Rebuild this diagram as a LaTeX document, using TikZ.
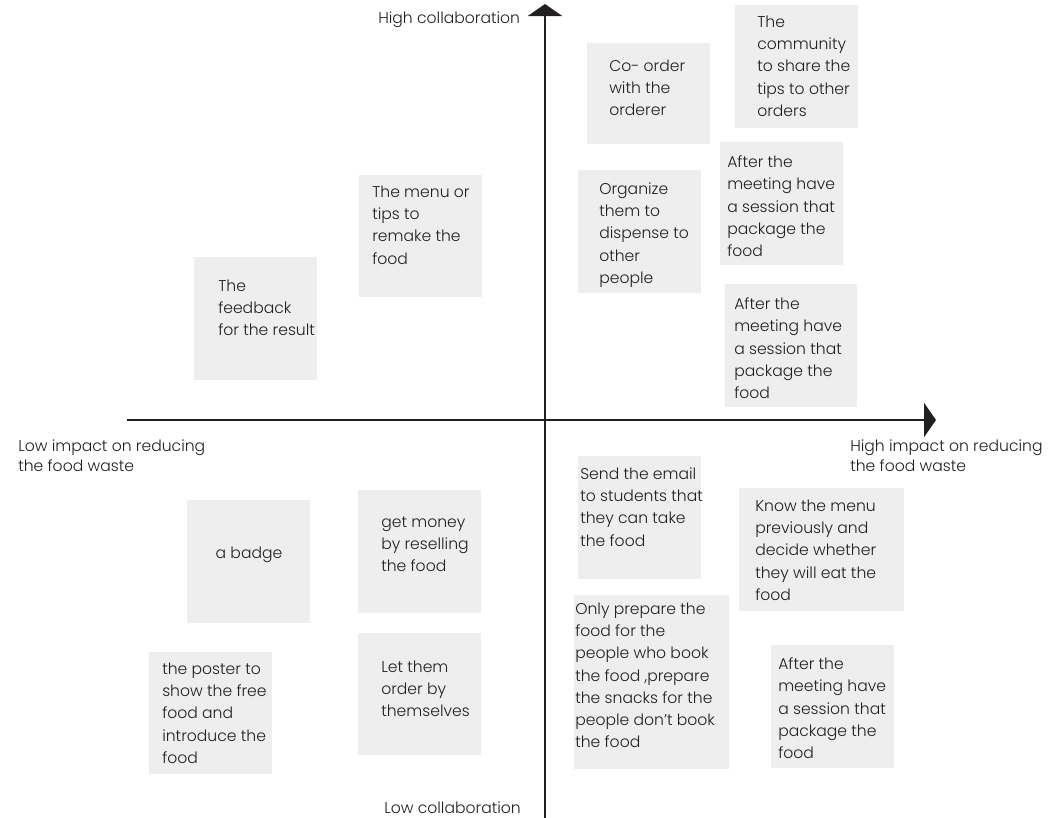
\documentclass[tikz,border=0pt]{standalone}
\usepackage{fontspec}
\setmainfont{Poppins}[UprightFont={* Light}]
\usetikzlibrary{arrows.meta}

\definecolor{ink}{HTML}{231F20}
\definecolor{cardgray}{HTML}{EEEEEE}

\tikzset{
  card/.style={fill=cardgray, draw=none, inner sep=0pt, outer sep=0pt},
  % text blocks are placed by the top of their first strut
  note/.style={anchor=north west, align=left, inner sep=0pt, text=ink,
               font=\fontsize{11.7}{16.7}\selectfont,
               execute at begin node=\strut},
  axislabel/.style={anchor=north west, align=left, inner sep=0pt, text=ink,
               font=\fontsize{11.7}{15}\selectfont,
               execute at begin node=\strut},
  axis/.style={draw=ink, line width=1.9pt,
               -{Triangle[length=9pt, width=25.5pt]}},
}

% a grey card from its top-left corner (x,y) with width w and height h (px)
\newcommand{\cardat}[5]{%
  \node[card, anchor=north west, minimum width=#4*0.75pt, minimum height=#5*0.75pt]
    (#1) at (#2,#3) {};}

\begin{document}
\begin{tikzpicture}[x=0.75pt,y=-0.75pt]
  \useasboundingbox (0,0) rectangle (1061,818);

  % cards
  \cardat{c1}{587}{43}{123}{101}
  \cardat{c2}{735}{5}{123}{123}
  \cardat{c3}{359}{175}{123}{122}
  \cardat{c4}{194}{257}{123}{123}
  \cardat{c5}{578}{170}{123}{123}
  \cardat{c6}{720}{142}{123}{123}
  \cardat{c7}{725}{284}{132}{123}
  \cardat{c8}{578}{456}{123}{123}
  \cardat{c9}{739}{488}{165}{123}
  \cardat{c10}{574}{595}{155}{174}
  \cardat{c11}{771}{645}{123}{123}
  \cardat{c12}{187}{500}{123}{123}
  \cardat{c13}{358}{490}{123}{123}
  \cardat{c14}{149}{652}{123}{122}
  \cardat{c15}{358}{633}{123}{122}

  % card texts (y = first baseline - 15.6)
  \node[note] (t1) at (609,59.4) {Co- order\\with the\\orderer};
  \node[note] (t2) at (757,15.4) {The\\community\\to share the\\tips to other\\orders};
  \node[note] (t3) at (372,185.4) {The menu or\\tips to\\remake the\\food};
  \node[note] (t4) at (218,279.4) {The\\feedback\\for the result};
  \node[note] (t5) at (599,182.4) {Organize\\them to\\dispense to\\other\\people};
  \node[note] (t6) at (727,155.4) {After the\\meeting have\\a session that\\package the\\food};
  \node[note] (t7) at (734,297.4) {After the\\meeting have\\a session that\\package the\\food};
  \node[note] (t8) at (580,467.4) {Send the email\\to students that\\they can take\\the food};
  \node[note] (t9) at (755,499.4) {Know the menu\\previously and\\decide whether\\they will eat the\\food};
  \node[note] (t10) at (575,602.4) {Only prepare the\\food for the\\people who book\\the food ,prepare\\the snacks for the\\people don't book\\the food};
  \node[note] (t11) at (778,657.4) {After the\\meeting have\\a session that\\package the\\food};
  \node[note, anchor=center, execute at begin node={}] (t12) at (249,554) {a badge};
  \node[note] (t13) at (381,516.4) {get money\\by reselling\\the food};
  \node[note] (t14) at (162,662.4) {the poster to\\show the free\\food and\\introduce the\\food};
  \node[note] (t15) at (381,660.4) {Let them\\order by\\themselves};

  % axes
  \coordinate (xl) at (127,420);
  \coordinate (xr) at (936,420);
  \coordinate (yb) at (545,818);
  \coordinate (yt) at (545,4);
  \draw[axis] (xl) -- (xr);
  \draw[axis] (yb) -- (yt);

  % axis labels (y = first baseline - 14)
  \node[axislabel] (hc) at (378,9) {High collaboration};
  \node[axislabel] (lc) at (384,799) {Low collaboration};
  \node[axislabel] (li) at (18,439) {Low impact on reducing\\the food waste};
  \node[axislabel] (hi) at (850,439) {High impact on reducing\\the food waste};
\end{tikzpicture}
\end{document}
